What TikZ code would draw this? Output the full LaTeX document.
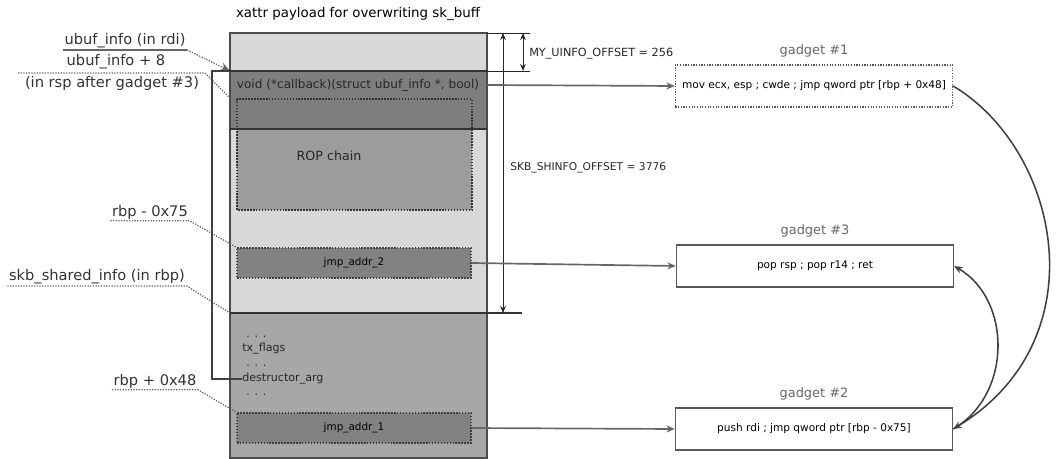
\documentclass[tikz,border=0pt]{standalone}
\usepackage{fontspec}
\setmainfont{DejaVu Sans}
\usetikzlibrary{arrows.meta}
\usetikzlibrary{positioning}
\definecolor{memlight}{HTML}{D8D8D8}
\definecolor{memdark}{HTML}{7E7E7E}
\definecolor{memmid}{HTML}{9C9C9C}
\definecolor{memshinfo}{HTML}{A7A7A7}

\begin{document}
\begin{tikzpicture}[x=0.025cm, y=-0.025cm,
	lbl/.style={text=black!80, font=\fontsize{10.4}{12}\selectfont, inner sep=1pt},
	field/.style={text=black!85, font=\fontsize{7.9}{9}\selectfont, inner sep=0pt},
	slot/.style={draw=black!75, densely dotted, line width=1.1pt, fill=memdark!85!memmid, minimum width=5.85cm, minimum height=0.75cm, font=\fontsize{7.4}{8}\selectfont, inner sep=0pt},
	gadget/.style={draw=black!65, line width=0.9pt, fill=white, minimum width=6.925cm, minimum height=1.05cm, font=\fontsize{7.5}{9}\selectfont, inner sep=0pt},
	gtitle/.style={text=black!60, font=\fontsize{9.2}{11}\selectfont, inner sep=0pt},
	link/.style={draw=black!60, line width=1.2pt, -{Stealth[length=6pt, width=5pt]}},
	pointer/.style={draw=black!60, densely dotted, line width=0.9pt},
	dim/.style={draw=black!85, line width=0.6pt}]
	\useasboundingbox (0,0) rectangle (1059,459);

	% payload buffer
	\fill[memlight] (230,33) rectangle (487,313);
	\fill[memdark] (230,71) rectangle (487,129);
	\fill[memshinfo] (230,313) rectangle (487,458);
	\fill[memmid] (237,129) rectangle (472,210);
	\draw[black!80, densely dotted, line width=1.1pt] (237,99) rectangle (472,210);
	\draw[black!70, line width=0.8pt] (230,33) rectangle (487,458);
	\draw[black!80, line width=0.8pt] (230,71) -- (487,71) (230,129) -- (487,129);
	\draw[black!80, line width=0.8pt] (230,313) -- (522,313);

	\node[font=\fontsize{9.5}{11}\selectfont, inner sep=0pt] (title) at (358,14) {xattr payload for overwriting sk\_buff};
	\node[field, font=\fontsize{8.6}{10}\selectfont] (cb) at (358,85) {void (*callback)(struct ubuf\_info *, bool)};
	\node[font=\fontsize{9}{10}\selectfont, text=black!85, inner sep=0pt] (rop) at (329,156) {ROP chain};
	\node[slot] (jmp2) at (354,263) {jmp\_addr\_2};
	\node[slot] (jmp1) at (354,428) {jmp\_addr\_1};
	\node[field, anchor=west] (dots1) at (246,337) {. . .};
	\node[field, anchor=west] (txf) at (242,349) {tx\_flags};
	\node[field, anchor=west] (dots2) at (246,366) {. . .};
	\node[field, anchor=west] (darg) at (242,379) {destructor\_arg};
	\node[field, anchor=west] (dots3) at (246,395) {. . .};

	% offsets
	\coordinate (top) at (487,33);
	\coordinate (uinfo) at (487,71);
	\coordinate (shinfo) at (487,313);
	\draw[dim] (top) -- (530,33) (uinfo) -- (530,71);
	\draw[dim, {Stealth[length=5pt, width=4pt]}-{Stealth[length=5pt, width=4pt]}] (503,33) -- (503,313);
	\draw[dim, {Stealth[length=5pt, width=4pt]}-{Stealth[length=5pt, width=4pt]}] (523,33) -- (523,71);
	\node[field, anchor=west, font=\fontsize{8}{9}\selectfont] (myoff) at (529,54) {MY\_UINFO\_OFFSET = 256};
	\node[field, anchor=west, font=\fontsize{7.6}{9}\selectfont] (shoff) at (510,168) {SKB\_SHINFO\_OFFSET = 3776};

	% gadgets
	\node[gadget, densely dotted] (g1) at (814,86) {mov ecx, esp ; cwde ; jmp qword ptr [rbp + 0x48]};
	\node[gadget] (g3) at (815,266) {pop rsp ; pop r14 ; ret};
	\node[gadget] (g2) at (814,429) {push rdi ; jmp qword ptr [rbp - 0x75]};
	\node[gtitle, above=5pt of g1] (t1) {gadget \#1};
	\node[gtitle, above=5pt of g3] (t3) {gadget \#3};
	\node[gtitle, above=5pt of g2] (t2) {gadget \#2};

	\coordinate (cbend) at (487,85);
	\draw[link] (cbend) -- (g1.west);
	\draw[link] (jmp2.east) -- (g3.west);
	\draw[link] (jmp1.east) -- (g2.west);
	\draw[draw=black!75, line width=1.1pt, -{Stealth[length=6pt, width=5pt]}] (g1.east) .. controls (1060,150) and (1100,340) .. (g2.east);
	\draw[draw=black!75, line width=1.1pt, -{Stealth[length=6pt, width=5pt]}] (g2.east) .. controls (1012,395) and (1012,300) .. (g3.east);

	% pointers on the left
	\node[lbl] (rdi) at (125,41) {ubuf\_info (in rdi)};
	\node[lbl] (rsp) at (116,62) {ubuf\_info + 8};
	\node[lbl] (rsp2) at (112,83) {(in rsp after gadget \#3)};
	\node[lbl] (m75) at (150,212) {rbp - 0x75};
	\node[lbl] (rbp) at (97,277) {skb\_shared\_info (in rbp)};
	\node[lbl] (p48) at (155,381) {rbp + 0x48};
	\coordinate (cbtop) at (230,71);
	\coordinate (roptop) at (230,98);
	\coordinate (shtop) at (230,313);
	\coordinate (rspleft) at (18,73);
	\coordinate (rspright) at (205,73);

	\draw[black!60, line width=1.2pt] (rdi.south west) -- (rdi.south east);
	\draw[pointer, -{Stealth[length=7pt, width=6pt]}] (rdi.south east) -- (cbtop);
	\draw[pointer] (rspleft) -- (rspright) -- (roptop);
	\draw[pointer] (m75.south west) -- (m75.south east) -- (jmp2.north west);
	\draw[pointer] (rbp.south west) -- (rbp.south east) -- (shtop);
	\draw[pointer] (p48.south west) -- (p48.south east) -- (jmp1.north west);
	\draw[black!75, line width=0.9pt] (darg.west) -- (212,379) -- (212,71) -- (cbtop);
\end{tikzpicture}
\end{document}
